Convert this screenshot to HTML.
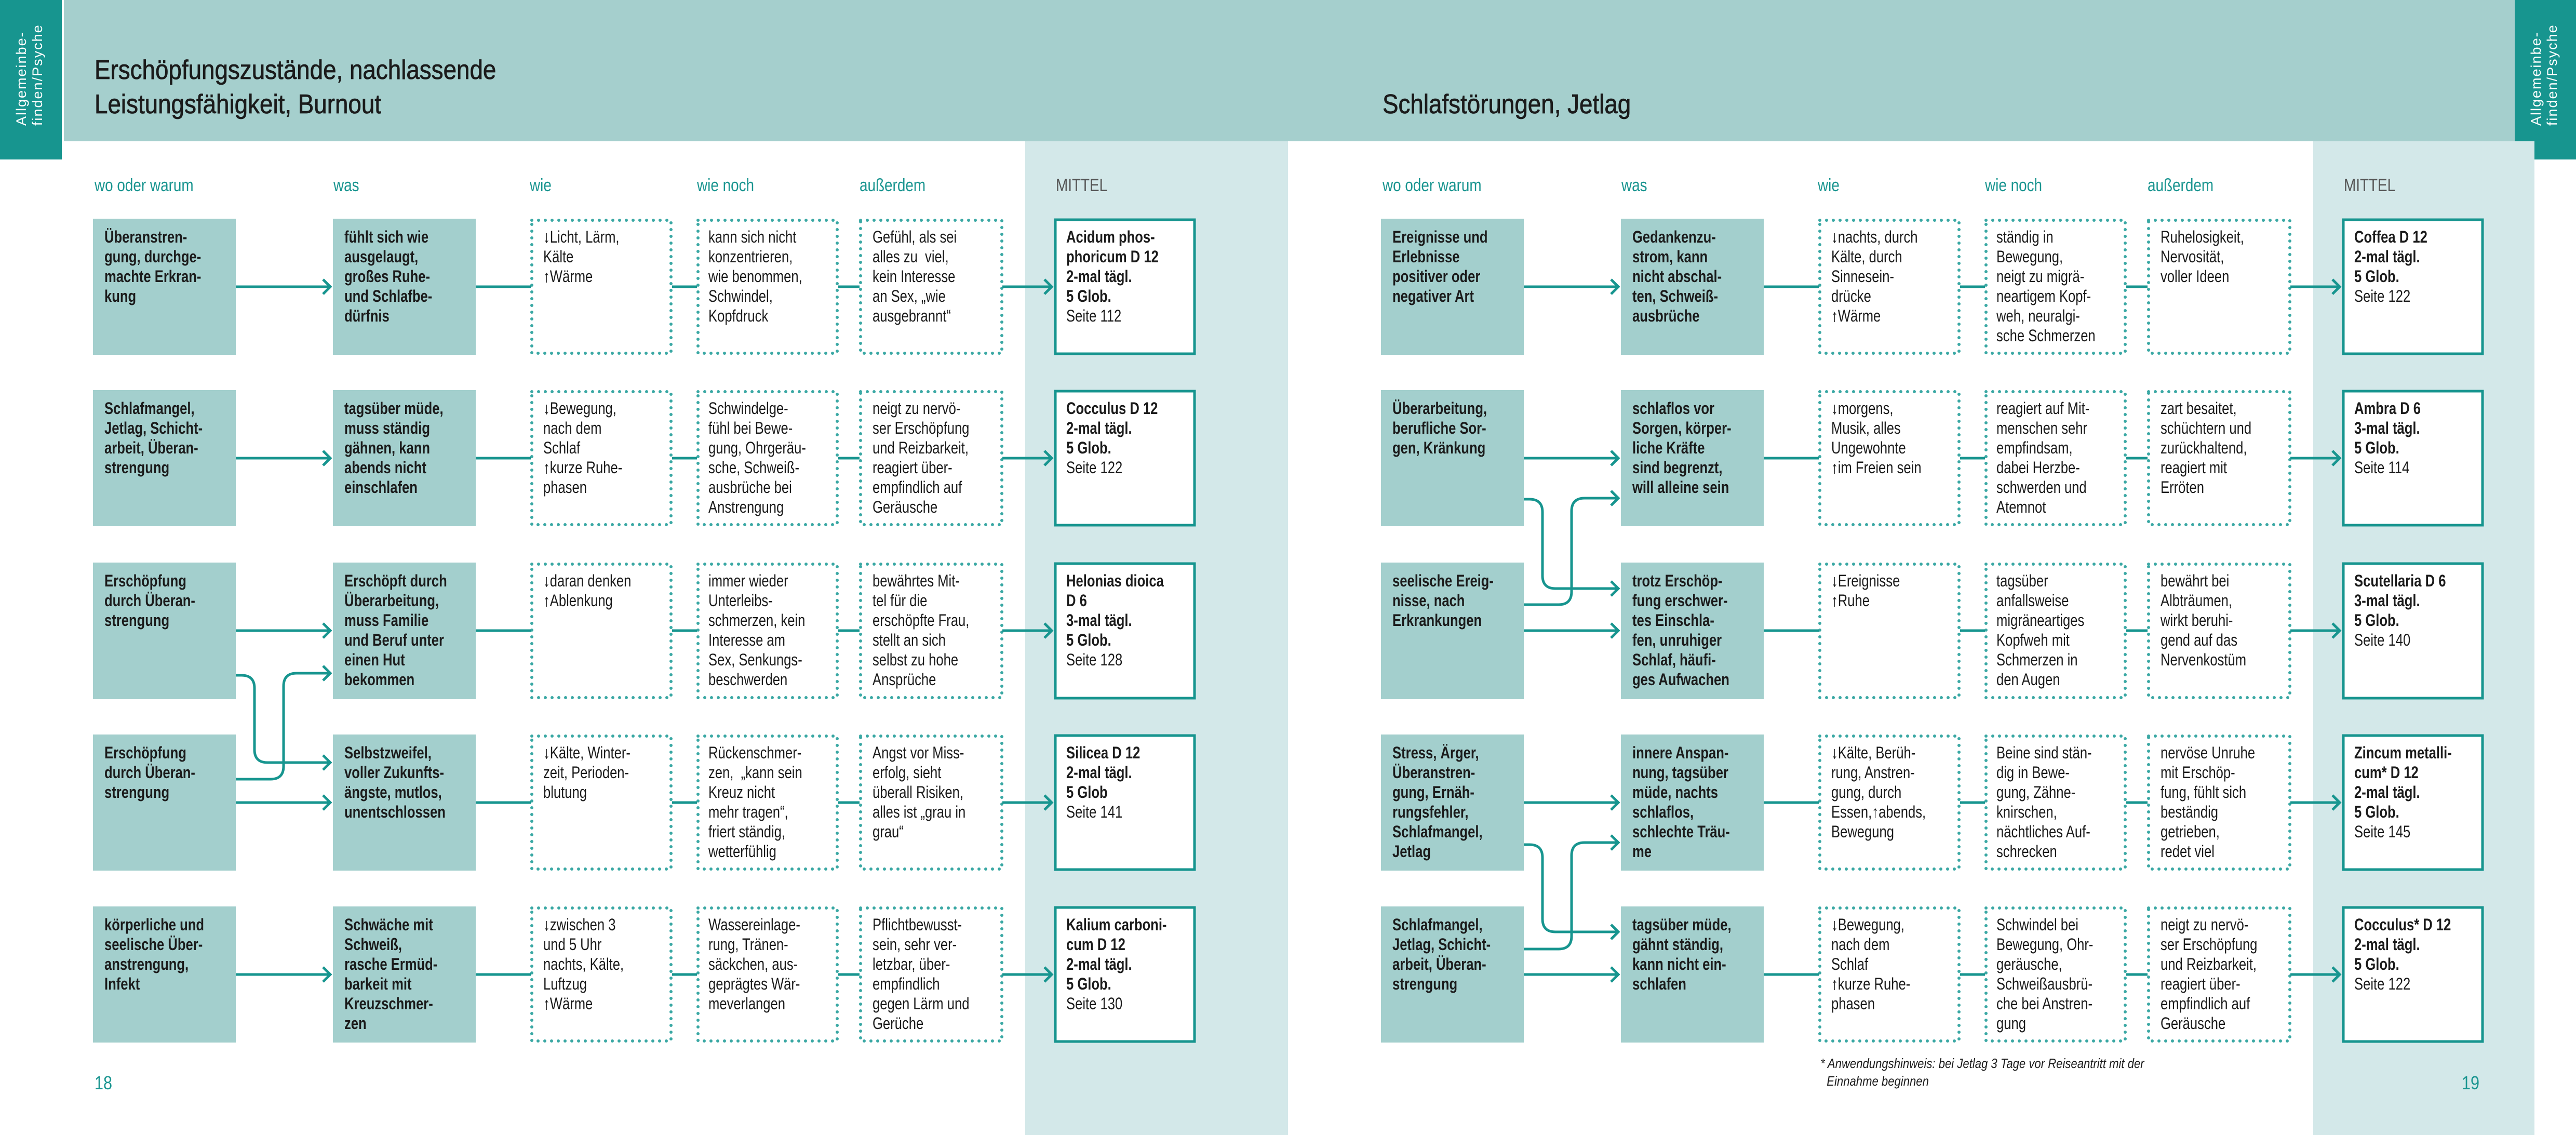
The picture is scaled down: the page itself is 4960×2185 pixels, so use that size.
<!DOCTYPE html>
<html><head><meta charset="utf-8"><style>
html,body{margin:0;padding:0}
body{width:4960px;height:2185px;position:relative;overflow:hidden;background:#fff;font-family:"Liberation Sans",sans-serif;color:#1b1b1b}
svg{position:absolute;left:0;top:0}
.t{position:absolute;font-size:32px;line-height:38px;white-space:nowrap;transform:scaleX(.8);transform-origin:0 0}
.bd{font-weight:bold}
.h{position:absolute;top:338px;font-size:34px;color:#1a9590;white-space:nowrap;transform:scaleX(.82);transform-origin:0 0}
.title{position:absolute;font-size:52px;line-height:66px;white-space:nowrap;color:#1b1b1b;transform:scaleX(.88);transform-origin:0 0;-webkit-text-stroke:0.8px #1b1b1b}
.tab{position:absolute;color:#fff;font-size:27px;line-height:31px;letter-spacing:2px;white-space:nowrap;transform:rotate(-90deg);transform-origin:0 0}
.pn{position:absolute;top:2064px;font-size:36px;color:#1a9590;transform:scaleX(.85);transform-origin:0 0}
.fn{position:absolute;left:3505px;top:2030px;font-size:26px;line-height:34px;font-style:italic;white-space:nowrap;transform:scaleX(.85);transform-origin:0 0}
</style></head><body>
<svg width="4960" height="2185" viewBox="0 0 4960 2185">
<rect x="123" y="0" width="4719" height="272" fill="#a5cfcd"/>
<rect x="0" y="0" width="119" height="307" fill="#17958f"/>
<rect x="4842" y="0" width="118" height="307" fill="#17958f"/>
<rect x="1974" y="272" width="506" height="1913" fill="#d3e8e9"/>
<rect x="4454" y="272" width="426" height="1913" fill="#d3e8e9"/>
<g id="L">
<g fill="#a3cfcd">
<rect x="179" y="421" width="275" height="262"/><rect x="641" y="421" width="275" height="262"/>
<rect x="179" y="751" width="275" height="262"/><rect x="641" y="751" width="275" height="262"/>
<rect x="179" y="1083" width="275" height="263"/><rect x="641" y="1083" width="275" height="263"/>
<rect x="179" y="1414" width="275" height="262"/><rect x="641" y="1414" width="275" height="262"/>
<rect x="179" y="1745" width="275" height="262"/><rect x="641" y="1745" width="275" height="262"/>
</g>
<g fill="none" stroke="#3aa8a4" stroke-width="6" stroke-linecap="round" stroke-dasharray="0 13">
<rect x="1024" y="424" width="268" height="256"/><rect x="1344" y="424" width="268" height="256"/><rect x="1657" y="424" width="272" height="256"/>
<rect x="1024" y="754" width="268" height="256"/><rect x="1344" y="754" width="268" height="256"/><rect x="1657" y="754" width="272" height="256"/>
<rect x="1024" y="1086" width="268" height="257"/><rect x="1344" y="1086" width="268" height="257"/><rect x="1657" y="1086" width="272" height="257"/>
<rect x="1024" y="1417" width="268" height="256"/><rect x="1344" y="1417" width="268" height="256"/><rect x="1657" y="1417" width="272" height="256"/>
<rect x="1024" y="1748" width="268" height="256"/><rect x="1344" y="1748" width="268" height="256"/><rect x="1657" y="1748" width="272" height="256"/>
</g>
<g fill="#fff" stroke="#17958f" stroke-width="5">
<rect x="2032" y="423" width="268" height="258"/><rect x="2032" y="753" width="268" height="258"/>
<rect x="2032" y="1085" width="268" height="259"/><rect x="2032" y="1416" width="268" height="258"/>
<rect x="2032" y="1747" width="268" height="258"/>
</g>
<g fill="none" stroke="#17958f" stroke-width="5">
<path d="M454 552H636M622 538L636 552L622 566M916 552H1022M1294 552H1342M1614 552H1655M1930 552H2025M2011 538L2025 552L2011 566"/>
<path d="M454 882H636M622 868L636 882L622 896M916 882H1022M1294 882H1342M1614 882H1655M1930 882H2025M2011 868L2025 882L2011 896"/>
<path d="M454 1214H636M622 1200L636 1214L622 1228M916 1214H1022M1294 1214H1342M1614 1214H1655M1930 1214H2025M2011 1200L2025 1214L2011 1228"/>
<path d="M454 1545H636M622 1531L636 1545L622 1559M916 1545H1022M1294 1545H1342M1614 1545H1655M1930 1545H2025M2011 1531L2025 1545L2011 1559"/>
<path d="M454 1876H636M622 1862L636 1876L622 1890M916 1876H1022M1294 1876H1342M1614 1876H1655M1930 1876H2025M2011 1862L2025 1876L2011 1890"/>
</g>
</g>
<use href="#L" x="2480"/>
<g fill="none" stroke="#17958f" stroke-width="5">
<path d="M454 1300H465Q490 1300 490 1325V1443Q490 1468 515 1468H636M622 1454L636 1468L622 1482"/>
<path d="M454 1500H521Q546 1500 546 1475V1321Q546 1296 571 1296H636M622 1282L636 1296L622 1310"/>
</g>
<g fill="none" stroke="#17958f" stroke-width="5" transform="translate(2480,0)">
<path d="M454 961H465Q490 961 490 986V1108Q490 1133 515 1133H636M622 1119L636 1133L622 1147"/>
<path d="M454 1164H521Q546 1164 546 1139V984Q546 959 571 959H636M622 945L636 959L622 973"/>
<path d="M454 1626H465Q490 1626 490 1651V1769Q490 1794 515 1794H636M622 1780L636 1794L622 1808"/>
<path d="M454 1827H521Q546 1827 546 1802V1647Q546 1622 571 1622H636M622 1608L636 1622L622 1636"/>
</g>
</svg>

<div class="tab" style="left:26px;top:242px">Allgemeinbe-<br>finden/Psyche</div>
<div class="tab" style="left:4868px;top:242px">Allgemeinbe-<br>finden/Psyche</div>
<div class="title" style="left:182px;top:102px">Erschöpfungszustände, nachlassende<br>Leistungsfähigkeit, Burnout</div>
<div class="title" style="left:2662px;top:168px">Schlafstörungen, Jetlag</div>

<div class="h" style="left:182px">wo oder warum</div><div class="h" style="left:642px">was</div><div class="h" style="left:1020px">wie</div><div class="h" style="left:1342px">wie noch</div><div class="h" style="left:1655px">außerdem</div><div class="h" style="left:2033px;color:#555">MITTEL</div>
<div class="h" style="left:2662px">wo oder warum</div><div class="h" style="left:3122px">was</div><div class="h" style="left:3500px">wie</div><div class="h" style="left:3822px">wie noch</div><div class="h" style="left:4135px">außerdem</div><div class="h" style="left:4513px;color:#555">MITTEL</div>

<div class="t bd" style="left:201px;top:437px">Überanstren-<br>gung, durchge-<br>machte Erkran-<br>kung</div>
<div class="t bd" style="left:663px;top:437px">fühlt sich wie<br>ausgelaugt,<br>großes Ruhe-<br>und Schlafbe-<br>dürfnis</div>
<div class="t" style="left:1046px;top:437px">↓Licht, Lärm,<br>Kälte<br>↑Wärme</div>
<div class="t" style="left:1364px;top:437px">kann sich nicht<br>konzentrieren,<br>wie benommen,<br>Schwindel,<br>Kopfdruck</div>
<div class="t" style="left:1680px;top:437px">Gefühl, als sei<br>alles zu&nbsp; viel,<br>kein Interesse<br>an Sex, „wie<br>ausgebrannt“</div>
<div class="t" style="left:2053px;top:437px"><b>Acidum phos-<br>phoricum D 12<br>2-mal tägl.<br>5 Glob.</b><br>Seite 112</div>

<div class="t bd" style="left:201px;top:767px">Schlafmangel,<br>Jetlag, Schicht-<br>arbeit, Überan-<br>strengung</div>
<div class="t bd" style="left:663px;top:767px">tagsüber müde,<br>muss ständig<br>gähnen, kann<br>abends nicht<br>einschlafen</div>
<div class="t" style="left:1046px;top:767px">↓Bewegung,<br>nach dem<br>Schlaf<br>↑kurze Ruhe-<br>phasen</div>
<div class="t" style="left:1364px;top:767px">Schwindelge-<br>fühl bei Bewe-<br>gung, Ohrgeräu-<br>sche, Schweiß-<br>ausbrüche bei<br>Anstrengung</div>
<div class="t" style="left:1680px;top:767px">neigt zu nervö-<br>ser Erschöpfung<br>und Reizbarkeit,<br>reagiert über-<br>empfindlich auf<br>Geräusche</div>
<div class="t" style="left:2053px;top:767px"><b>Cocculus D 12<br>2-mal tägl.<br>5 Glob.</b><br>Seite 122</div>

<div class="t bd" style="left:201px;top:1099px">Erschöpfung<br>durch Überan-<br>strengung</div>
<div class="t bd" style="left:663px;top:1099px">Erschöpft durch<br>Überarbeitung,<br>muss Familie<br>und Beruf unter<br>einen Hut<br>bekommen</div>
<div class="t" style="left:1046px;top:1099px">↓daran denken<br>↑Ablenkung</div>
<div class="t" style="left:1364px;top:1099px">immer wieder<br>Unterleibs-<br>schmerzen, kein<br>Interesse am<br>Sex, Senkungs-<br>beschwerden</div>
<div class="t" style="left:1680px;top:1099px">bewährtes Mit-<br>tel für die<br>erschöpfte Frau,<br>stellt an sich<br>selbst zu hohe<br>Ansprüche</div>
<div class="t" style="left:2053px;top:1099px"><b>Helonias dioica<br>D 6<br>3-mal tägl.<br>5 Glob.</b><br>Seite 128</div>

<div class="t bd" style="left:201px;top:1430px">Erschöpfung<br>durch Überan-<br>strengung</div>
<div class="t bd" style="left:663px;top:1430px">Selbstzweifel,<br>voller Zukunfts-<br>ängste, mutlos,<br>unentschlossen</div>
<div class="t" style="left:1046px;top:1430px">↓Kälte, Winter-<br>zeit, Perioden-<br>blutung</div>
<div class="t" style="left:1364px;top:1430px">Rückenschmer-<br>zen,&nbsp; „kann sein<br>Kreuz nicht<br>mehr tragen“,<br>friert ständig,<br>wetterfühlig</div>
<div class="t" style="left:1680px;top:1430px">Angst vor Miss-<br>erfolg, sieht<br>überall Risiken,<br>alles ist „grau in<br>grau“</div>
<div class="t" style="left:2053px;top:1430px"><b>Silicea D 12<br>2-mal tägl.<br>5 Glob</b><br>Seite 141</div>

<div class="t bd" style="left:201px;top:1761px">körperliche und<br>seelische Über-<br>anstrengung,<br>Infekt</div>
<div class="t bd" style="left:663px;top:1761px">Schwäche mit<br>Schweiß,<br>rasche Ermüd-<br>barkeit mit<br>Kreuzschmer-<br>zen</div>
<div class="t" style="left:1046px;top:1761px">↓zwischen 3<br>und 5 Uhr<br>nachts, Kälte,<br>Luftzug<br>↑Wärme</div>
<div class="t" style="left:1364px;top:1761px">Wassereinlage-<br>rung, Tränen-<br>säckchen, aus-<br>geprägtes Wär-<br>meverlangen</div>
<div class="t" style="left:1680px;top:1761px">Pflichtbewusst-<br>sein, sehr ver-<br>letzbar, über-<br>empfindlich<br>gegen Lärm und<br>Gerüche</div>
<div class="t" style="left:2053px;top:1761px"><b>Kalium carboni-<br>cum D 12<br>2-mal tägl.<br>5 Glob.</b><br>Seite 130</div>

<div class="t bd" style="left:2681px;top:437px">Ereignisse und<br>Erlebnisse<br>positiver oder<br>negativer Art</div>
<div class="t bd" style="left:3143px;top:437px">Gedankenzu-<br>strom, kann<br>nicht abschal-<br>ten, Schweiß-<br>ausbrüche</div>
<div class="t" style="left:3526px;top:437px">↓nachts, durch<br>Kälte, durch<br>Sinnesein-<br>drücke<br>↑Wärme</div>
<div class="t" style="left:3844px;top:437px">ständig in<br>Bewegung,<br>neigt zu migrä-<br>neartigem Kopf-<br>weh, neuralgi-<br>sche Schmerzen</div>
<div class="t" style="left:4160px;top:437px">Ruhelosigkeit,<br>Nervosität,<br>voller Ideen</div>
<div class="t" style="left:4533px;top:437px"><b>Coffea D 12<br>2-mal tägl.<br>5 Glob.</b><br>Seite 122</div>

<div class="t bd" style="left:2681px;top:767px">Überarbeitung,<br>berufliche Sor-<br>gen, Kränkung</div>
<div class="t bd" style="left:3143px;top:767px">schlaflos vor<br>Sorgen, körper-<br>liche Kräfte<br>sind begrenzt,<br>will alleine sein</div>
<div class="t" style="left:3526px;top:767px">↓morgens,<br>Musik, alles<br>Ungewohnte<br>↑im Freien sein</div>
<div class="t" style="left:3844px;top:767px">reagiert auf Mit-<br>menschen sehr<br>empfindsam,<br>dabei Herzbe-<br>schwerden und<br>Atemnot</div>
<div class="t" style="left:4160px;top:767px">zart besaitet,<br>schüchtern und<br>zurückhaltend,<br>reagiert mit<br>Erröten</div>
<div class="t" style="left:4533px;top:767px"><b>Ambra D 6<br>3-mal tägl.<br>5 Glob.</b><br>Seite 114</div>

<div class="t bd" style="left:2681px;top:1099px">seelische Ereig-<br>nisse, nach<br>Erkrankungen</div>
<div class="t bd" style="left:3143px;top:1099px">trotz Erschöp-<br>fung erschwer-<br>tes Einschla-<br>fen, unruhiger<br>Schlaf, häufi-<br>ges Aufwachen</div>
<div class="t" style="left:3526px;top:1099px">↓Ereignisse<br>↑Ruhe</div>
<div class="t" style="left:3844px;top:1099px">tagsüber<br>anfallsweise<br>migräneartiges<br>Kopfweh mit<br>Schmerzen in<br>den Augen</div>
<div class="t" style="left:4160px;top:1099px">bewährt bei<br>Albträumen,<br>wirkt beruhi-<br>gend auf das<br>Nervenkostüm</div>
<div class="t" style="left:4533px;top:1099px"><b>Scutellaria D 6<br>3-mal tägl.<br>5 Glob.</b><br>Seite 140</div>

<div class="t bd" style="left:2681px;top:1430px">Stress, Ärger,<br>Überanstren-<br>gung, Ernäh-<br>rungsfehler,<br>Schlafmangel,<br>Jetlag</div>
<div class="t bd" style="left:3143px;top:1430px">innere Anspan-<br>nung, tagsüber<br>müde, nachts<br>schlaflos,<br>schlechte Träu-<br>me</div>
<div class="t" style="left:3526px;top:1430px">↓Kälte, Berüh-<br>rung, Anstren-<br>gung, durch<br>Essen,↑abends,<br>Bewegung</div>
<div class="t" style="left:3844px;top:1430px">Beine sind stän-<br>dig in Bewe-<br>gung, Zähne-<br>knirschen,<br>nächtliches Auf-<br>schrecken</div>
<div class="t" style="left:4160px;top:1430px">nervöse Unruhe<br>mit Erschöp-<br>fung, fühlt sich<br>beständig<br>getrieben,<br>redet viel</div>
<div class="t" style="left:4533px;top:1430px"><b>Zincum metalli-<br>cum* D 12<br>2-mal tägl.<br>5 Glob.</b><br>Seite 145</div>

<div class="t bd" style="left:2681px;top:1761px">Schlafmangel,<br>Jetlag, Schicht-<br>arbeit, Überan-<br>strengung</div>
<div class="t bd" style="left:3143px;top:1761px">tagsüber müde,<br>gähnt ständig,<br>kann nicht ein-<br>schlafen</div>
<div class="t" style="left:3526px;top:1761px">↓Bewegung,<br>nach dem<br>Schlaf<br>↑kurze Ruhe-<br>phasen</div>
<div class="t" style="left:3844px;top:1761px">Schwindel bei<br>Bewegung, Ohr-<br>geräusche,<br>Schweißausbrü-<br>che bei Anstren-<br>gung</div>
<div class="t" style="left:4160px;top:1761px">neigt zu nervö-<br>ser Erschöpfung<br>und Reizbarkeit,<br>reagiert über-<br>empfindlich auf<br>Geräusche</div>
<div class="t" style="left:4533px;top:1761px"><b>Cocculus* D 12<br>2-mal tägl.<br>5 Glob.</b><br>Seite 122</div>

<div class="fn">* Anwendungshinweis: bei Jetlag 3 Tage vor Reiseantritt mit der<br>&nbsp;&nbsp;Einnahme beginnen</div>
<div class="pn" style="left:182px">18</div>
<div class="pn" style="left:4740px">19</div>
</body></html>
